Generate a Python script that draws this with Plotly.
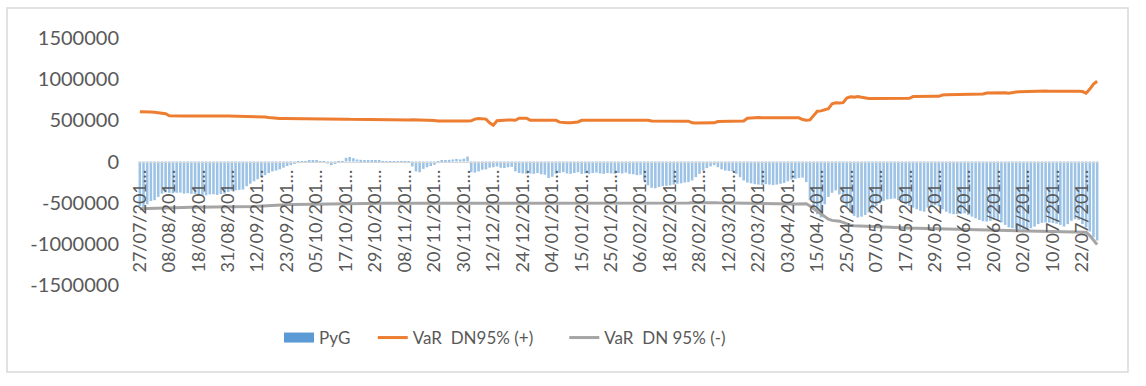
import plotly.graph_objects as go

# ---- data (values in thousands) ----
tick_labels = ["27/07/201…", "08/08/201…", "18/08/201…", "31/08/201…", "12/09/201…",
               "23/09/201…", "05/10/201…", "17/10/201…", "29/10/201…", "08/11/201…",
               "20/11/201…", "30/11/201…", "12/12/201…", "24/12/201…", "04/01/201…",
               "15/01/201…", "25/01/201…", "06/02/201…", "18/02/201…", "28/02/201…",
               "12/03/201…", "22/03/201…", "03/04/201…", "15/04/201…", "25/04/201…",
               "07/05/201…", "17/05/201…", "29/05/201…", "10/06/201…", "20/06/201…",
               "02/07/201…", "10/07/201…", "22/07/201…"]

pyg_k = [
    -540, -555, -520, -480, -470, -430, -390, -375, -380, -385,
    -380, -378, -390, -385, -392, -395, -400, -405, -410, -400,
    -398, -405, -395, -390, -370, -355, -350, -345, -340, -300,
    -270, -240, -215, -190, -165, -140, -120, -110, -95, -75,
    -55, -45, -30, -20, -10, -5, 8, 12, 10, 5,
    -10, -25, -45, -30, -15, 5, 45, 55, 40, 25,
    20, 15, 18, 10, 12, 8, 5, 2, -5, -15,
    -10, 3, -20, -8, -60, -120, -130, -90, -70, -55,
    -40, -20, 10, 15, 20, 25, 30, 25, 35, 60,
    -130, -135, -120, -100, -95, -75, -70, -60, -75, -80,
    -70, -65, -120, -140, -145, -150, -145, -150, -140, -155,
    -160, -200, -185, -150, -140, -130, -145, -150, -140, -130,
    -150, -145, -150, -140, -135, -145, -150, -140, -145, -150,
    -140, -145, -135, -150, -155, -165, -160, -230, -290, -320,
    -325, -310, -300, -295, -290, -280, -270, -265, -255, -250,
    -230, -190, -150, -110, -80, -60, -45, -70, -95, -110,
    -115, -120, -150, -190, -230, -255, -265, -275, -280, -285,
    -275, -280, -285, -280, -270, -260, -240, -220, -210, -200,
    -195, -250, -470, -560, -640, -680, -520, -430, -380, -350,
    -400, -480, -550, -620, -660, -680, -670, -650, -620, -580,
    -540, -510, -480, -460, -455, -450, -470, -490, -520, -540,
    -560, -580, -600, -610, -560, -540, -530, -545, -580, -610,
    -630, -640, -640, -635, -630, -650, -670, -690, -710, -725,
    -730, -720, -710, -715, -740, -770, -800, -810, -815, -820,
    -825, -818, -810, -790, -760, -745, -740, -742, -748, -755,
    -770, -790, -760, -720, -700, -710, -760, -800, -850, -920,
    -960,
]

var_pos_k = [
    605, 606, 603, 600, 598, 590, 585, 580, 555, 552,
    552, 551, 552, 553, 552, 551, 552, 552, 551, 552,
    553, 552, 551, 552, 552, 551, 552, 552, 550, 549,
    548, 547, 546, 544, 540, 534, 528, 525, 523, 522,
    522, 521, 522, 523, 522, 521, 522, 522, 521, 522,
    523, 522, 521, 522, 522, 520, 514, 512, 511, 512,
    516, 512, 508, 507, 508, 507, 506, 507, 506, 505,
    506, 507, 506, 505, 506, 505, 504, 505, 506, 505,
    498, 493, 492, 491, 492, 493, 492, 491, 492, 493,
    495, 515, 522, 520, 515, 470, 440, 495, 500, 502,
    505, 503, 500, 525, 528, 526, 502, 500, 500, 499,
    500, 500, 501, 500, 478, 472, 472, 470, 474, 480,
    500, 501, 500, 500, 502, 501, 500, 500, 501, 500,
    500, 501, 502, 501, 500, 500, 501, 500, 501, 491,
    490, 490, 489, 490, 491, 490, 490, 489, 490, 490,
    470, 468, 467, 466, 467, 468, 470, 486, 488, 488,
    489, 488, 488, 490, 492, 525, 530, 532, 533, 532,
    533, 532, 533, 532, 531, 530, 531, 532, 531, 530,
    510, 500, 505, 560, 610, 615, 625, 640, 700, 712,
    710, 715, 770, 785, 782, 790, 780, 768, 765, 764,
    765, 766, 765, 764, 765, 766, 765, 764, 766, 768,
    788, 790, 791, 790, 792, 790, 791, 792, 808, 810,
    811, 810, 812, 810, 815, 812, 810, 813, 815, 820,
    832, 833, 834, 832, 838, 835, 830, 840, 845, 848,
    850, 854, 855, 854, 853, 855, 856, 854, 855, 854,
    855, 854, 855, 854, 853, 854, 850, 830, 880, 940,
    975,
]

var_neg_k = [
    -575, -573, -572, -570, -570, -569, -568, -567, -560, -557,
    -557, -556, -557, -557, -556, -557, -557, -556, -557, -557,
    -556, -557, -557, -556, -556, -555, -555, -554, -553, -552,
    -550, -548, -545, -542, -538, -534, -530, -527, -525, -524,
    -524, -523, -523, -522, -522, -522, -521, -521, -521, -520,
    -520, -520, -519, -519, -518, -517, -515, -514, -513, -512,
    -512, -511, -510, -510, -509, -509, -508, -508, -508, -508,
    -508, -507, -508, -508, -507, -507, -508, -507, -507, -506,
    -505, -504, -504, -503, -504, -504, -503, -503, -504, -504,
    -505, -508, -510, -510, -509, -505, -502, -504, -505, -506,
    -507, -507, -506, -509, -510, -510, -508, -507, -507, -506,
    -506, -506, -506, -505, -503, -502, -502, -501, -502, -503,
    -505, -506, -506, -505, -506, -506, -505, -505, -506, -506,
    -506, -506, -507, -507, -506, -506, -506, -505, -506, -504,
    -503, -503, -502, -503, -503, -503, -502, -502, -503, -503,
    -500, -499, -498, -498, -498, -499, -500, -502, -503, -503,
    -504, -504, -504, -505, -506, -512, -514, -515, -516, -516,
    -516, -516, -517, -516, -516, -516, -516, -517, -516, -516,
    -514, -513, -540, -570, -610, -640, -670, -700, -715, -720,
    -725, -740, -760, -775, -780, -782, -785, -790, -792, -795,
    -800, -802, -804, -806, -807, -808, -809, -809, -810, -810,
    -811, -811, -812, -812, -813, -813, -815, -816, -817, -818,
    -820, -821, -822, -822, -825, -826, -826, -828, -829, -830,
    -832, -833, -833, -835, -836, -837, -837, -839, -840, -841,
    -842, -843, -843, -845, -846, -847, -848, -848, -850, -850,
    -851, -852, -852, -853, -853, -854, -855, -860, -900, -960,
    -1010,
]

y_ticks = [1500000, 1000000, 500000, 0, -500000, -1000000, -1500000]
y_tick_text = ["1500000", "1000000", "500000", "0", "-500000", "-1000000", "-1500000"]
TICK_STEP = 8  # one date label every 8 categories

# ---- build ----
pyg = [v * 1000 for v in pyg_k]
var_pos = [v * 1000 for v in var_pos_k]
var_neg = [v * 1000 for v in var_neg_k]
idx = list(range(len(pyg)))
tick_vals = [i * TICK_STEP for i in range(len(tick_labels))]

W, H = 1146, 386
L, R, T, B = 138, 47, 38, 101
PW, PH = W - L - R, H - T - B

TEXT = "#595959"
FONT = "Lato"
NB = "\u00a0"

fig = go.Figure()
# legend-only swatch for the bar series
fig.add_trace(go.Scatter(x=[None], y=[None], mode="lines", name="PyG" + NB * 4,
                         line=dict(color="#5B9BD5", width=13)))
fig.add_trace(go.Bar(x=idx, y=pyg, name="PyG", showlegend=False,
                     marker=dict(color="#5B9BD5", line=dict(width=0)), opacity=0.6))
fig.add_trace(go.Scatter(x=idx, y=var_pos, mode="lines",
                         name="VaR" + NB + " DN95% (+)" + NB * 6,
                         line=dict(color="#ED7D31", width=3)))
fig.add_trace(go.Scatter(x=idx, y=var_neg, mode="lines",
                         name="VaR" + NB + " DN 95% (-)",
                         line=dict(color="#A5A5A5", width=3)))

def px_x(p):
    return (p - L) / PW

def px_y(p):
    return (H - B - p) / PH

fig.add_shape(type="rect", xref="paper", yref="paper",
              x0=px_x(7), x1=px_x(1128), y0=px_y(372), y1=px_y(8),
              line=dict(color="#D9D9D9", width=1.5), fillcolor="rgba(0,0,0,0)", layer="below")

fig.update_layout(
    width=W, height=H,
    margin=dict(l=L, r=R, t=T, b=B, pad=0),
    paper_bgcolor="white", plot_bgcolor="white",
    bargap=0.3,
    font=dict(family=FONT, color=TEXT),
    showlegend=True,
    legend=dict(orientation="h", x=px_x(279), xanchor="left",
                y=px_y(338), yanchor="middle",
                font=dict(family=FONT, size=17, color=TEXT),
                bgcolor="rgba(0,0,0,0)", itemwidth=30),
    xaxis=dict(range=[-0.5, len(pyg) - 0.5], tickmode="array",
               tickvals=tick_vals, ticktext=tick_labels, tickangle=-90,
               tickfont=dict(family=FONT, size=18, color=TEXT),
               showgrid=False, zeroline=False, showline=True,
               linecolor="#D9D9D9", linewidth=1, ticks="",
               anchor="free", position=0.5),
    yaxis=dict(range=[-1500000, 1500000], tickmode="array",
               tickvals=y_ticks, ticktext=y_tick_text,
               tickfont=dict(family=FONT, size=20, color=TEXT),
               showgrid=False, zeroline=False, showline=False, ticks="",
               ticklabelstandoff=18),
)

fig.write_html("out.html", config={"displayModeBar": False},
               post_script="document.body.style.margin='0';")
